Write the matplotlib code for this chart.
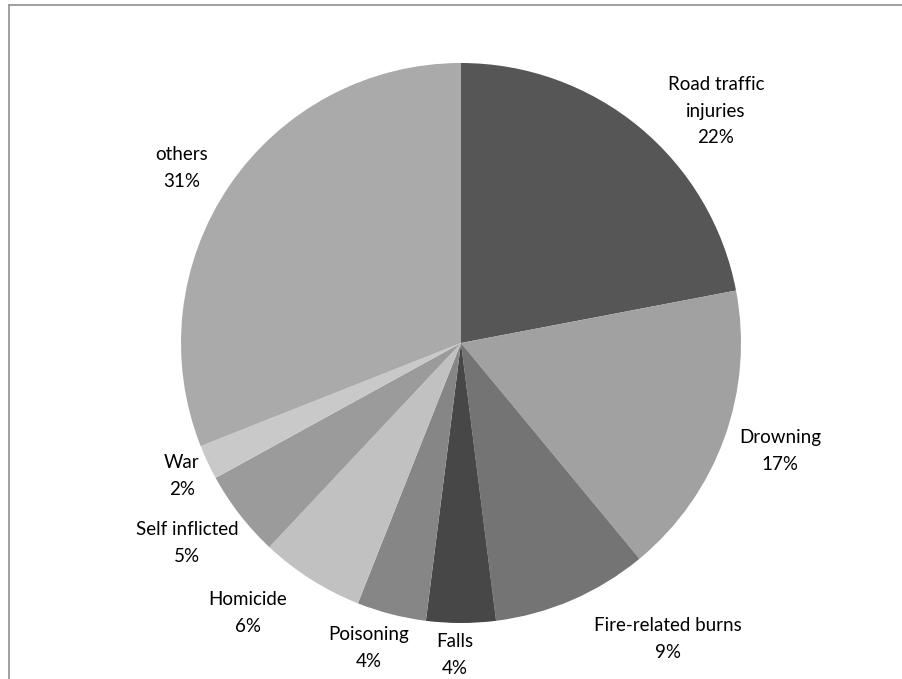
import matplotlib.pyplot as plt
from matplotlib.lines import Line2D

# injury causes, clockwise from 12 o'clock
causes = ["Road traffic\ninjuries", "Drowning", "Fire-related burns", "Falls",
          "Poisoning", "Homicide", "Self inflicted", "War", "others"]
shares = [22, 17, 9, 4, 4, 6, 5, 2, 31]
greys = ["#565656", "#a1a1a1", "#747474", "#474747", "#868686",
         "#c1c1c1", "#9b9b9b", "#c9c9c9", "#aaaaaa"]

# label anchor points (pixel space, y measured from the top)
label_pos = [(716, 111), (780, 451), (668, 639), (455, 655), (369, 648),
             (248, 613), (187, 543), (182, 476), (182, 168)]

W, H = 902, 679
fig = plt.figure(figsize=(W / 100, H / 100), dpi=100)
ax = fig.add_axes([0, 0, 1, 1])

ax.pie(shares, colors=greys, startangle=90, counterclock=False,
       center=(461, H - 343), radius=280, frame=True,
       wedgeprops=dict(linewidth=0))
ax.axis("off")
ax.set_xlim(0, W)
ax.set_ylim(0, H)
ax.set_aspect("equal")

for name, val, (px, py) in zip(causes, shares, label_pos):
    ax.text(px, H - py, f"{name}\n{val}%", ha="center", va="center",
            fontsize=13.5, family="Lato", linespacing=1.65, color="black")

# chart area border (runs off the right and bottom edges)
ax.add_line(Line2D([9, W + 5], [H - 5, H - 5], color="#999999", lw=1.3))
ax.add_line(Line2D([9, 9], [H - 5, -5], color="#999999", lw=1.3))

fig.savefig("out.png", dpi=100)
